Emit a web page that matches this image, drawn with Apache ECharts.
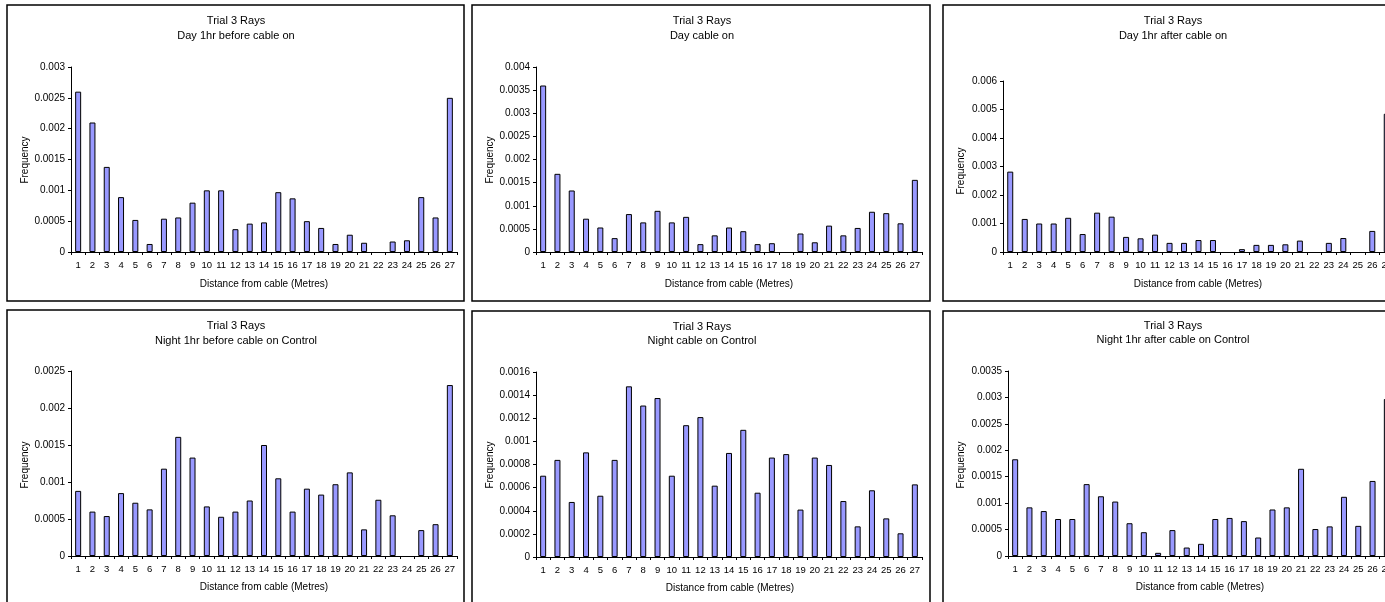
<!DOCTYPE html>
<html>
<head>
<meta charset="utf-8">
<script src="https://cdn.jsdelivr.net/npm/echarts@6/dist/echarts.min.js"></script>
<style>
  html, body { margin: 0; padding: 0; background: #fff; overflow: hidden; width: 1385px; height: 602px; }
  #chart { width: 1410px; height: 620px; }
</style>
</head>
<body>
<div id="chart"></div>
<script>
// Distance bins along the x axis (metres from the cable)
const distances = ['1','2','3','4','5','6','7','8','9','10','11','12','13','14','15','16','17','18','19','20','21','22','23','24','25','26','27'];

// Frequency per distance bin for each observation period
const dayBeforeCable = [0.0026, 0.0021, 0.00138, 0.00089, 0.00052, 0.00013, 0.00054, 0.00056, 0.0008, 0.001, 0.001, 0.00037, 0.00046, 0.00048, 0.00097, 0.00087, 0.0005, 0.00039, 0.00013, 0.00028, 0.00015, 0, 0.00017, 0.00019, 0.00089, 0.00056, 0.0025];
const dayCableOn = [0.0036, 0.00169, 0.00133, 0.00072, 0.00053, 0.0003, 0.00082, 0.00064, 0.00089, 0.00064, 0.00076, 0.00017, 0.00036, 0.00053, 0.00045, 0.00017, 0.00019, 0, 0.0004, 0.00021, 0.00057, 0.00036, 0.00052, 0.00087, 0.00084, 0.00062, 0.00156];
const dayAfterCable = [0.00282, 0.00116, 0.001, 0.001, 0.0012, 0.00063, 0.00138, 0.00124, 0.00053, 0.00048, 0.00061, 0.00032, 0.00032, 0.00042, 0.00042, 0, 0.0001, 0.00025, 0.00025, 0.00027, 0.0004, 0, 0.00032, 0.00049, 0, 0.00074, 0.00485];
const nightBeforeCable = [0.00088, 0.0006, 0.00054, 0.00085, 0.00072, 0.00063, 0.00118, 0.00161, 0.00133, 0.00067, 0.00053, 0.0006, 0.00075, 0.0015, 0.00105, 0.0006, 0.00091, 0.00083, 0.00097, 0.00113, 0.00036, 0.00076, 0.00055, 0, 0.00035, 0.00043, 0.00231];
const nightCableOn = [0.000703, 0.00084, 0.000476, 0.000905, 0.00053, 0.00084, 0.001476, 0.00131, 0.001375, 0.000703, 0.00114, 0.00121, 0.000617, 0.0009, 0.0011, 0.000556, 0.00086, 0.00089, 0.00041, 0.00086, 0.000796, 0.000484, 0.000265, 0.000577, 0.000334, 0.000205, 0.000628];
const nightAfterCable = [0.00183, 0.00092, 0.00085, 0.0007, 0.0007, 0.00136, 0.00113, 0.00103, 0.00062, 0.00045, 0.00006, 0.00049, 0.00016, 0.00023, 0.0007, 0.00072, 0.00066, 0.00035, 0.00088, 0.00092, 0.00165, 0.00051, 0.00056, 0.00112, 0.00057, 0.00142, 0.00297];

// Chart headings
const headingTop = 'Trial 3 Rays';
const subtitles = ['Day 1hr before cable on', 'Day cable on', 'Day 1hr after cable on',
                   'Night 1hr before cable on Control', 'Night cable on Control', 'Night 1hr after cable on Control'];
const xAxisTitle = 'Distance from cable (Metres)';
const yAxisTitle = 'Frequency';

// Value axis extents per chart: [max, step]
const yMax = [0.003, 0.004, 0.006, 0.0025, 0.0016, 0.0035];
const yStep = [0.0005, 0.0005, 0.001, 0.0005, 0.0002, 0.0005];

const seriesData = [dayBeforeCable, dayCableOn, dayAfterCable, nightBeforeCable, nightCableOn, nightAfterCable];

// Layout of each framed chart (pixels)
const panels = [
  { box: [7, 5, 457, 296],   grid: [71, 67, 386, 185],    title: [236, 21, 36],  xName: [264, 284],  yName: [25, 160] },
  { box: [472, 5, 458, 296], grid: [536, 67, 386, 185],   title: [702, 21, 36],  xName: [729, 284],  yName: [490, 160] },
  { box: [943, 5, 460, 296], grid: [1003, 81, 391, 171],  title: [1173, 21, 36], xName: [1198, 284], yName: [961, 171] },
  { box: [7, 310, 457, 296], grid: [71, 371, 386, 185],   title: [236, 326, 341], xName: [264, 587], yName: [25, 465] },
  { box: [472, 311, 458, 296], grid: [536, 372, 386, 185], title: [702, 327, 341], xName: [730, 588], yName: [490, 465] },
  { box: [943, 311, 460, 296], grid: [1008, 371, 386, 185], title: [1173, 326, 340], xName: [1200, 587], yName: [961, 465] }
];

const FONT = '"Liberation Sans", Arial, Helvetica, sans-serif';
const INK = '#000';

function textEl(str, x, y, size, rotation) {
  return {
    type: 'text', x: x, y: y, rotation: rotation || 0, silent: true,
    style: {
      text: str, fill: INK, font: size + 'px ' + FONT,
      textAlign: 'center', textVerticalAlign: 'middle', align: 'center', verticalAlign: 'middle'
    }
  };
}

// Empty bins keep their zero value but get no outline, so nothing is drawn there
function barItems(values) {
  return values.map(function (v) {
    return v === 0 ? { value: v, itemStyle: { borderWidth: 0, opacity: 0 } } : v;
  });
}

const grids = [], xAxes = [], yAxes = [], series = [], graphics = [];

panels.forEach(function (p, i) {
  grids.push({ left: p.grid[0], top: p.grid[1], width: p.grid[2], height: p.grid[3], containLabel: false, outerBoundsMode: 'none' });
  xAxes.push({
    type: 'category', gridIndex: i, data: distances,
    axisLine: { lineStyle: { color: INK, width: 1 } },
    axisTick: { show: true, length: 3, lineStyle: { color: INK } },
    axisLabel: { interval: 0, color: INK, fontSize: 9.5, fontFamily: FONT, margin: 8, hideOverlap: false },
    splitLine: { show: false }
  });
  yAxes.push({
    type: 'value', gridIndex: i, min: 0, max: yMax[i], interval: yStep[i],
    axisLine: { show: true, lineStyle: { color: INK, width: 1 } },
    axisTick: { show: true, length: 3, lineStyle: { color: INK } },
    axisLabel: {
      color: INK, fontSize: 10, fontFamily: FONT, margin: 6,
      formatter: function (v) { return v === 0 ? '0' : String(+v.toFixed(6)); }
    },
    splitLine: { show: false }
  });
  series.push({
    type: 'bar', xAxisIndex: i, yAxisIndex: i, data: barItems(seriesData[i]), barWidth: 6,
    itemStyle: { color: '#9999ff', borderColor: INK, borderWidth: 1 },
    emphasis: { disabled: true }, silent: true
  });

  graphics.push({
    type: 'rect', silent: true,
    shape: { x: p.box[0], y: p.box[1], width: p.box[2], height: p.box[3] },
    style: { fill: 'none', stroke: INK, lineWidth: 1.5 }
  });
  graphics.push(textEl(headingTop, p.title[0], p.title[1], 11));
  graphics.push(textEl(subtitles[i], p.title[0], p.title[2], 11));
  graphics.push(textEl(xAxisTitle, p.xName[0], p.xName[1], 10));
  graphics.push(textEl(yAxisTitle, p.yName[0], p.yName[1], 10, Math.PI / 2));
});

const chart = echarts.init(document.getElementById('chart'), null, { renderer: 'canvas' });
chart.setOption({
  animation: false,
  backgroundColor: '#fff',
  grid: grids,
  xAxis: xAxes,
  yAxis: yAxes,
  series: series,
  graphic: { elements: graphics }
});
</script>
</body>
</html>
